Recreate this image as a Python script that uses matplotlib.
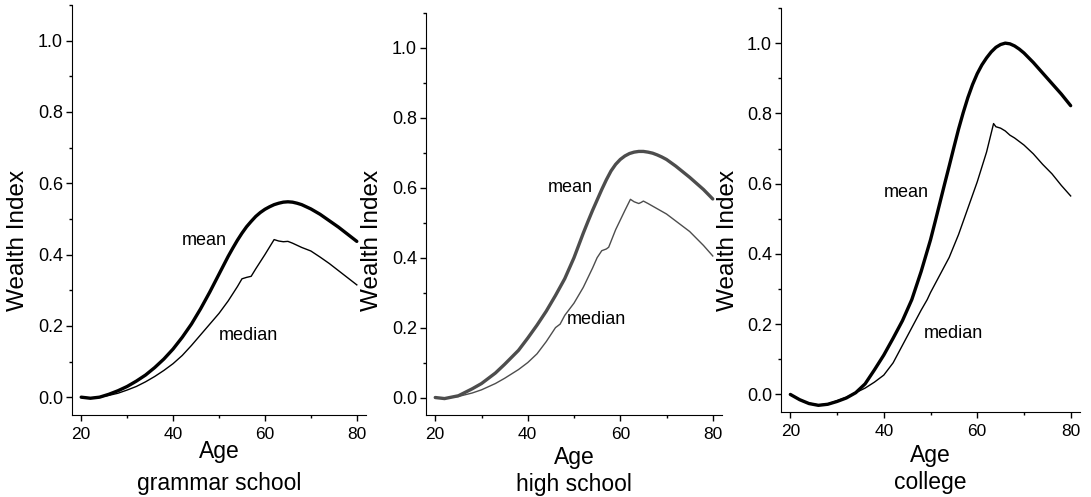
import numpy as np
import matplotlib
matplotlib.use('Agg')
import matplotlib.pyplot as plt
from matplotlib.ticker import MultipleLocator

plt.rcParams['font.family'] = ['Liberation Sans', 'DejaVu Sans']

#grammar school - age / mean / median
age_gs = [20, 22, 24, 26, 28, 30, 32, 34, 36, 38, 40, 42, 44, 46, 48, 50, 51, 52, 53,
          54, 55, 56, 57, 58, 59, 60, 61, 62, 63, 64, 65, 66, 67, 68, 69, 70, 72, 74,
          76, 78, 80]
mean_gs = [0.0, -0.003, 0.0, 0.008, 0.018, 0.03, 0.045, 0.062, 0.083, 0.107, 0.135,
           0.168, 0.205, 0.248, 0.295, 0.345, 0.37, 0.395, 0.418, 0.44, 0.46, 0.478,
           0.493, 0.507, 0.518, 0.527, 0.534, 0.54, 0.544, 0.547, 0.548, 0.547, 0.544,
           0.54, 0.534, 0.528, 0.513, 0.495, 0.477, 0.457, 0.437]
age_gs_med = [20, 22, 24, 26, 28, 30, 32, 34, 36, 38, 40, 42, 44, 46, 48, 50, 52, 54,
              55, 56, 57, 58, 60, 62, 63, 64, 65, 66, 68, 69, 70, 72, 74, 76, 78, 80]
median_gs = [0.0, -0.002, 0.0, 0.005, 0.011, 0.02, 0.03, 0.043, 0.058, 0.075, 0.094,
             0.117, 0.145, 0.175, 0.205, 0.235, 0.27, 0.31, 0.332, 0.336, 0.339, 0.36,
             0.4, 0.442, 0.438, 0.436, 0.437, 0.432, 0.42, 0.415, 0.41, 0.393, 0.375,
             0.355, 0.335, 0.315]

#high school
age_hs = [20, 22, 25, 28, 30, 33, 35, 38, 40, 42, 44, 46, 48, 49, 50, 51, 52, 53, 54,
          55, 56, 57, 58, 59, 60, 61, 62, 63, 64, 65, 66, 67, 68, 69, 70, 72, 75, 78, 80]
mean_hs = [0.0, -0.003, 0.005, 0.025, 0.04, 0.07, 0.095, 0.135, 0.17, 0.207, 0.247,
           0.292, 0.34, 0.37, 0.4, 0.435, 0.47, 0.503, 0.535, 0.565, 0.595, 0.623,
           0.648, 0.667, 0.681, 0.691, 0.698, 0.702, 0.704, 0.704, 0.702, 0.699, 0.694,
           0.688, 0.681, 0.662, 0.63, 0.595, 0.568]
age_hs_med = [20, 22, 25, 28, 30, 33, 35, 38, 40, 42, 44, 46, 47, 48, 50, 52, 54, 55,
              56, 57, 57.5, 59, 61, 62.2, 63, 64, 64.5, 65, 66, 68, 70, 72, 75, 78, 80]
median_hs = [0.0, -0.002, 0.003, 0.013, 0.022, 0.04, 0.055, 0.08, 0.1, 0.125, 0.16,
             0.2, 0.21, 0.235, 0.27, 0.315, 0.37, 0.4, 0.42, 0.425, 0.43, 0.48, 0.535,
             0.567, 0.56, 0.555, 0.558, 0.562, 0.555, 0.54, 0.525, 0.505, 0.475, 0.435,
             0.405]

#college
age_co = [20, 22, 24, 26, 28, 30, 32, 34, 36, 38, 40, 42, 44, 46, 48, 50, 51, 52, 53,
          54, 55, 56, 57, 58, 59, 60, 61, 62, 63, 64, 65, 66, 67, 68, 69, 70, 72, 74,
          76, 78, 80]
mean_co = [0.0, -0.015, -0.026, -0.031, -0.028, -0.02, -0.01, 0.005, 0.03, 0.07,
           0.112, 0.16, 0.21, 0.27, 0.35, 0.44, 0.492, 0.545, 0.598, 0.65, 0.703, 0.755,
           0.802, 0.845, 0.882, 0.913, 0.938, 0.958, 0.975, 0.988, 0.996, 1.0, 0.998,
           0.992, 0.983, 0.972, 0.945, 0.915, 0.885, 0.855, 0.822]
age_co_med = [20, 23, 26, 28, 30, 32, 34, 36, 38, 40, 42, 44, 46, 48, 49.3, 50, 52, 54,
              56, 58, 60, 62, 63.5, 64, 65, 66, 67, 68, 70, 72, 74, 76, 78, 80]
median_co = [0.0, -0.022, -0.03, -0.027, -0.018, -0.008, 0.005, 0.018, 0.035, 0.055,
             0.09, 0.14, 0.19, 0.24, 0.27, 0.29, 0.34, 0.39, 0.455, 0.53, 0.605, 0.69,
             0.771, 0.762, 0.758, 0.75, 0.738, 0.73, 0.71, 0.685, 0.655, 0.628, 0.595,
             0.565]

fig = plt.figure(figsize=(10.91, 4.97), dpi=100)

#axes boxes in figure pixels: left, right, top, bottom, x of y label
boxes = [(72, 366, 5, 415, 18), (426, 722, 13, 415, 372), (781, 1080, 8, 412, 728)]

panels = [
    (age_gs, mean_gs, age_gs_med, median_gs, 'black', 'grammar school',
     (42.0, 0.428), (50.0, 0.161), -0.105, -0.183),
    (age_hs, mean_hs, age_hs_med, median_hs, '#4d4d4d', 'high school',
     (44.4, 0.587), (48.5, 0.209), -0.122, -0.189),
    (age_co, mean_co, age_co_med, median_co, 'black', 'college',
     (39.9, 0.562), (48.5, 0.16), -0.124, -0.191),
]

for box, p in zip(boxes, panels):
    l, r, t, b, lx = box
    ax = fig.add_axes([l / 1091, (497 - b) / 497, (r - l) / 1091, (b - t) / 497])
    ages, mean, ages_med, med, col, title, mpos, dpos, age_y, sub_y = p

    ax.plot(ages, mean, color=col, lw=2.4, solid_capstyle='round')
    ax.plot(ages_med, med, color=col, lw=1.0)

    ax.set_xlim(18, 82)
    ax.set_ylim(-0.05, 1.1)
    ax.spines['top'].set_visible(False)
    ax.spines['right'].set_visible(False)
    ax.xaxis.set_major_locator(MultipleLocator(20))
    ax.xaxis.set_minor_locator(MultipleLocator(10))
    ax.yaxis.set_minor_locator(MultipleLocator(0.1))
    ax.set_yticks(np.arange(0, 1.01, 0.2))
    ax.set_yticklabels(['%.1f' % v for v in np.arange(0, 1.01, 0.2)])
    ax.tick_params(which='major', direction='out', length=4.5, width=1)
    ax.tick_params(which='minor', direction='out', length=2.5, width=1)
    ax.tick_params(axis='x', labelsize=12.5, pad=4)
    ax.tick_params(axis='y', labelsize=13, pad=2)

    ax.set_ylabel('Wealth Index', fontsize=17.5, va='center')
    ax.yaxis.set_label_coords((lx - l) / (r - l), (b - 240) / (b - t))

    ax.text(0.5, age_y, 'Age', transform=ax.transAxes, ha='center',
            va='baseline', fontsize=16.5)
    ax.text(0.5, sub_y, title, transform=ax.transAxes, ha='center',
            va='baseline', fontsize=16.5)

    ax.text(mpos[0], mpos[1], 'mean', ha='left', va='baseline', fontsize=13)
    ax.text(dpos[0], dpos[1], 'median', ha='left', va='baseline', fontsize=13)

plt.savefig('out.png', dpi=100)
